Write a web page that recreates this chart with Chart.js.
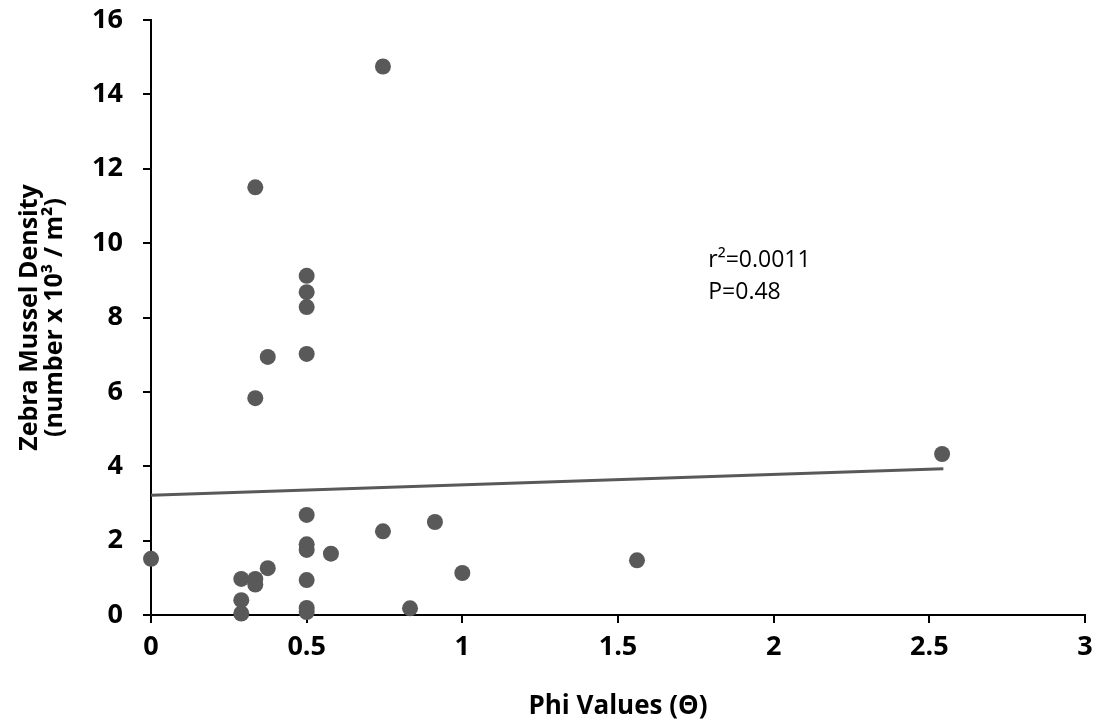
<!DOCTYPE html>
<html>
<head>
<meta charset="utf-8">
<script src="https://cdn.jsdelivr.net/npm/chart.js@4"></script>
<style>
  html, body { margin: 0; padding: 0; background: #fff; }
  #wrap { width: 1101px; height: 723px; }
</style>
</head>
<body>
<div id="wrap"><canvas id="musselChart" width="1101" height="723"></canvas></div>
<script>
// Phi values (x) and zebra mussel density (y, number x 10^3 / m^2)
const phiValues = [0, 0.29, 0.29, 0.29, 0.335, 0.335, 0.375, 0.335, 0.375, 0.335,
  0.5, 0.5, 0.5, 0.5, 0.5, 0.5, 0.5, 0.5, 0.5, 0.5,
  0.578, 0.745, 0.745, 0.832, 0.912, 1.0, 1.561, 2.541];
const densityValues = [1.51, 0.04, 0.40, 0.97, 0.97, 0.82, 1.26, 5.83, 6.94, 11.5,
  9.12, 8.68, 8.28, 7.02, 2.69, 1.9, 1.75, 0.94, 0.19, 0.08,
  1.65, 2.25, 14.75, 0.18, 2.5, 1.13, 1.47, 4.33];

// regression line end points
const trendX = [0, 2.545];
const trendY = [3.22, 3.93];

// axis ticks
const xTicks = [0, 0.5, 1, 1.5, 2, 2.5, 3];
const yTicks = [0, 2, 4, 6, 8, 10, 12, 14, 16];

// stats text and where it sits (data units)
const statsLines = ['r\u00B2=0.0011', 'P=0.48'];
const statsAt = { x: 1.79, y: 9.36 };

const markColor = '#595959';
const fontFamily = '"Open Sans", "Liberation Sans", sans-serif';

const scatterPoints = phiValues.map((x, i) => ({ x: x, y: densityValues[i] }));
const trendPoints = trendX.map((x, i) => ({ x: x, y: trendY[i] }));

// draws the r2 / P text inside the plot
const statsText = {
  id: 'statsText',
  afterDatasetsDraw(chart) {
    const ctx = chart.ctx;
    const x = chart.scales.x.getPixelForValue(statsAt.x);
    const y = chart.scales.y.getPixelForValue(statsAt.y);
    ctx.save();
    ctx.fillStyle = '#000';
    ctx.font = '23px ' + fontFamily;
    ctx.textAlign = 'left';
    ctx.textBaseline = 'alphabetic';
    statsLines.forEach((line, i) => ctx.fillText(line, x, y + i * 32));
    ctx.restore();
  }
};

const axisGrid = {
  display: true,
  drawOnChartArea: false,
  drawTicks: true,
  tickLength: 8,
  color: '#000',
  lineWidth: 2
};

const plainNumber = v => String(v);

new Chart(document.getElementById('musselChart').getContext('2d'), {
  type: 'scatter',
  data: {
    datasets: [
      {
        label: 'Density',
        data: scatterPoints,
        backgroundColor: markColor,
        borderWidth: 0,
        pointRadius: 8,
        pointHoverRadius: 8,
        clip: false,
        order: 1
      },
      {
        type: 'line',
        label: 'Trend',
        data: trendPoints,
        borderColor: markColor,
        borderWidth: 3,
        pointRadius: 0,
        fill: false,
        clip: false,
        order: 2
      }
    ]
  },
  options: {
    responsive: false,
    animation: false,
    layout: { padding: { top: 20, right: 16, bottom: 0, left: 0 } },
    plugins: {
      legend: { display: false },
      tooltip: { enabled: false }
    },
    scales: {
      x: {
        type: 'linear',
        min: 0,
        max: 3,
        afterBuildTicks: axis => { axis.ticks = xTicks.map(v => ({ value: v })); },
        afterFit: axis => { axis.height = 108; axis.paddingLeft = 0; axis.paddingRight = 0; },
        grid: axisGrid,
        border: { color: '#000', width: 2 },
        ticks: {
          color: '#000',
          padding: 8,
          callback: plainNumber,
          font: { family: fontFamily, size: 27, weight: 'bold' }
        },
        title: {
          display: true,
          text: 'Phi Values (\u0398)',
          color: '#000',
          padding: { top: 0, bottom: 3 },
          font: { family: fontFamily, size: 26, weight: 'bold', lineHeight: 1.05 }
        }
      },
      y: {
        type: 'linear',
        min: 0,
        max: 16,
        afterBuildTicks: axis => { axis.ticks = yTicks.map(v => ({ value: v })); },
        afterFit: axis => { axis.width = 151; axis.paddingTop = 0; axis.paddingBottom = 0; },
        grid: axisGrid,
        border: { color: '#000', width: 2 },
        ticks: {
          color: '#000',
          padding: 20,
          callback: plainNumber,
          font: { family: fontFamily, size: 27, weight: 'bold' }
        },
        title: {
          display: true,
          text: ['Zebra Mussel Density', '(number x 10\u00B3 / m\u00B2)'],
          color: '#000',
          padding: { top: 17, bottom: 0 },
          font: { family: fontFamily, size: 25, weight: 'bold', lineHeight: 1.0 }
        }
      }
    }
  },
  plugins: [statsText]
});
</script>
</body>
</html>
